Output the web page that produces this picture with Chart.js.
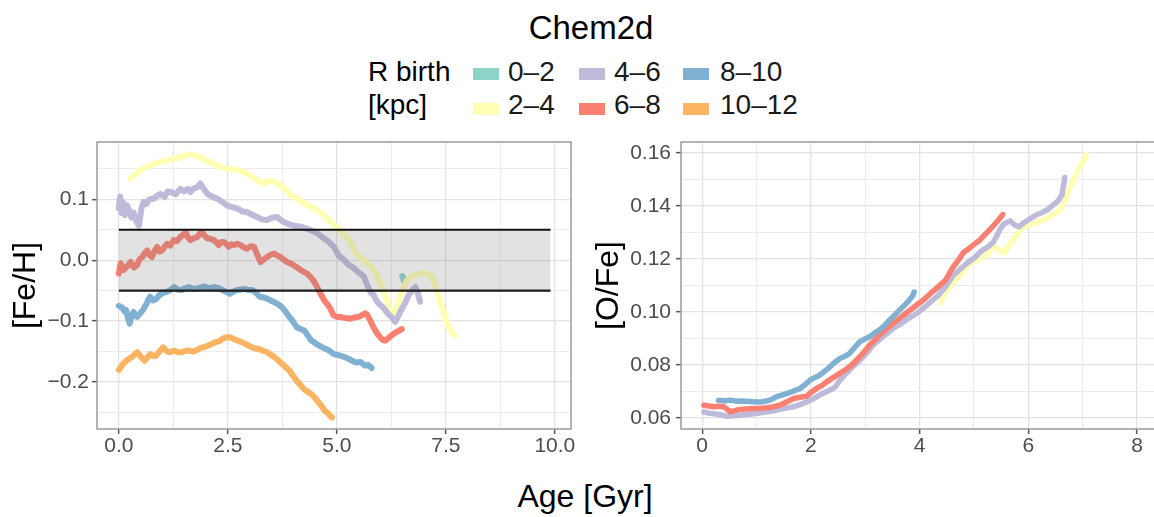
<!DOCTYPE html>
<html>
<head>
<meta charset="utf-8">
<script src="https://cdn.jsdelivr.net/npm/chart.js@4.4.1/dist/chart.umd.min.js"></script>
<style>
    html, body { margin: 0; padding: 0; background: #fff; overflow: hidden; }
    body { width: 1154px; height: 517px; position: relative; font-family: "Liberation Sans", Arial, sans-serif; color: #000; }
    .txt { position: absolute; white-space: nowrap; }
    .key { position: absolute; width: 26px; height: 12px; }
    canvas { position: absolute; }
</style>
</head>
<body>
<div class="txt" style="left:391px; top:11px; width:400px; text-align:center; font-size:33px; line-height:33px;">Chem2d</div>
<div id="legend"></div>
<canvas id="fehChart" width="585" height="350" style="left:0; top:120px;"></canvas>
<canvas id="ofeChart" width="584" height="350" style="left:580px; top:120px;"></canvas>
<div class="txt" style="left:385px; top:480px; width:400px; text-align:center; font-size:32px; line-height:32px;">Age [Gyr]</div>
<script>
// R birth groups (kpc) and their colours
const groupLabels = ['0–2', '2–4', '4–6', '6–8', '8–10', '10–12'];
const groupColors = ['#8DD3C7', '#FFFFB3', '#BEBADA', '#FB8072', '#80B1D3', '#FDB462'];

// ---- left panel: [Fe/H] vs age ----
const fehAge02 = [6.50, 6.52, 6.54];
const feh02 = [-0.026, -0.030, -0.034];

const fehAge24 = [0.27, 0.40, 0.50, 0.65, 0.80, 0.95, 1.11, 1.25, 1.41, 1.55, 1.64, 1.75, 1.87, 2.00, 2.18, 2.33, 2.48, 2.64, 2.79, 2.95, 3.10, 3.20, 3.33, 3.48, 3.60, 3.71, 3.82, 3.94, 4.10, 4.24, 4.40, 4.55, 4.70, 4.85, 5.00, 5.16, 5.23, 5.33, 5.42, 5.53, 5.65, 5.75, 5.84, 5.92, 5.99, 6.07, 6.15, 6.22, 6.30, 6.38, 6.45, 6.53, 6.61, 6.70, 6.80, 6.90, 6.99, 7.10, 7.18, 7.24, 7.29, 7.37, 7.45, 7.50, 7.56, 7.63, 7.71];
const feh24 = [0.134, 0.142, 0.148, 0.153, 0.158, 0.161, 0.164, 0.166, 0.169, 0.172, 0.174, 0.172, 0.169, 0.164, 0.158, 0.153, 0.150, 0.149, 0.147, 0.141, 0.135, 0.130, 0.126, 0.131, 0.127, 0.123, 0.116, 0.107, 0.101, 0.094, 0.088, 0.082, 0.074, 0.064, 0.053, 0.044, 0.038, 0.027, 0.013, 0.004, -0.002, -0.008, -0.016, -0.025, -0.038, -0.050, -0.066, -0.082, -0.096, -0.078, -0.060, -0.045, -0.033, -0.027, -0.024, -0.022, -0.021, -0.023, -0.027, -0.036, -0.049, -0.068, -0.087, -0.098, -0.109, -0.118, -0.124];

const fehAge46 = [0.00, 0.03, 0.06, 0.10, 0.14, 0.19, 0.24, 0.29, 0.34, 0.40, 0.46, 0.52, 0.57, 0.63, 0.70, 0.80, 0.88, 0.96, 1.05, 1.12, 1.19, 1.30, 1.41, 1.50, 1.58, 1.64, 1.72, 1.80, 1.87, 1.93, 2.03, 2.15, 2.26, 2.37, 2.48, 2.60, 2.71, 2.83, 2.94, 3.05, 3.17, 3.28, 3.40, 3.52, 3.63, 3.75, 3.86, 4.00, 4.17, 4.30, 4.40, 4.55, 4.70, 4.80, 4.93, 5.04, 5.16, 5.28, 5.39, 5.50, 5.62, 5.69, 5.77, 5.85, 5.92, 6.00, 6.08, 6.15, 6.25, 6.34, 6.42, 6.49, 6.57, 6.64, 6.72, 6.80, 6.86, 6.91];
const feh46 = [0.085, 0.104, 0.078, 0.095, 0.074, 0.090, 0.082, 0.070, 0.078, 0.064, 0.057, 0.085, 0.096, 0.092, 0.100, 0.101, 0.106, 0.109, 0.104, 0.113, 0.112, 0.108, 0.117, 0.113, 0.117, 0.112, 0.118, 0.120, 0.126, 0.119, 0.109, 0.104, 0.101, 0.096, 0.090, 0.087, 0.085, 0.080, 0.079, 0.075, 0.071, 0.067, 0.066, 0.070, 0.071, 0.064, 0.060, 0.057, 0.055, 0.052, 0.049, 0.044, 0.036, 0.031, 0.022, 0.008, 0.001, -0.008, -0.013, -0.020, -0.027, -0.040, -0.052, -0.058, -0.068, -0.074, -0.079, -0.086, -0.093, -0.101, -0.090, -0.080, -0.070, -0.058, -0.050, -0.044, -0.055, -0.068];

const fehAge68 = [0.00, 0.04, 0.11, 0.19, 0.27, 0.35, 0.42, 0.48, 0.54, 0.60, 0.65, 0.70, 0.76, 0.82, 0.88, 0.94, 0.99, 1.05, 1.11, 1.18, 1.26, 1.33, 1.41, 1.47, 1.53, 1.58, 1.64, 1.72, 1.80, 1.86, 1.91, 1.97, 2.03, 2.10, 2.18, 2.24, 2.29, 2.35, 2.41, 2.47, 2.52, 2.58, 2.64, 2.72, 2.79, 2.87, 2.94, 3.02, 3.10, 3.17, 3.25, 3.32, 3.40, 3.48, 3.56, 3.63, 3.71, 3.78, 3.86, 3.93, 4.01, 4.09, 4.17, 4.24, 4.32, 4.39, 4.46, 4.52, 4.58, 4.65, 4.71, 4.77, 4.84, 4.92, 5.00, 5.08, 5.20, 5.31, 5.40, 5.50, 5.58, 5.65, 5.70, 5.76, 5.84, 5.92, 6.00, 6.06, 6.11, 6.18, 6.26, 6.34, 6.42, 6.49];
const feh68 = [-0.022, -0.005, -0.016, -0.010, -0.003, -0.012, -0.008, 0.002, 0.005, 0.012, 0.016, 0.009, 0.005, 0.015, 0.022, 0.014, 0.016, 0.022, 0.027, 0.024, 0.033, 0.031, 0.038, 0.041, 0.046, 0.038, 0.033, 0.036, 0.038, 0.044, 0.046, 0.040, 0.036, 0.035, 0.033, 0.029, 0.025, 0.030, 0.030, 0.026, 0.022, 0.026, 0.025, 0.027, 0.025, 0.021, 0.019, 0.023, 0.022, 0.010, -0.003, 0.001, 0.005, 0.009, 0.011, 0.008, 0.005, 0.001, -0.003, -0.005, -0.008, -0.012, -0.016, -0.019, -0.022, -0.027, -0.033, -0.040, -0.049, -0.058, -0.066, -0.071, -0.078, -0.090, -0.093, -0.093, -0.095, -0.096, -0.094, -0.093, -0.090, -0.087, -0.090, -0.098, -0.110, -0.120, -0.127, -0.131, -0.132, -0.128, -0.123, -0.119, -0.116, -0.113];

const fehAge810 = [0.00, 0.08, 0.13, 0.17, 0.21, 0.25, 0.30, 0.34, 0.38, 0.42, 0.48, 0.55, 0.60, 0.64, 0.68, 0.72, 0.78, 0.85, 0.92, 0.98, 1.04, 1.10, 1.18, 1.27, 1.35, 1.44, 1.52, 1.61, 1.70, 1.78, 1.87, 1.95, 2.08, 2.21, 2.30, 2.38, 2.46, 2.55, 2.63, 2.72, 2.80, 2.89, 2.97, 3.06, 3.14, 3.23, 3.32, 3.40, 3.48, 3.57, 3.65, 3.74, 3.82, 3.91, 4.00, 4.08, 4.17, 4.25, 4.33, 4.42, 4.50, 4.59, 4.67, 4.76, 4.84, 4.93, 5.05, 5.18, 5.30, 5.44, 5.54, 5.65, 5.72, 5.80];
const feh810 = [-0.075, -0.078, -0.084, -0.082, -0.095, -0.104, -0.090, -0.085, -0.090, -0.093, -0.088, -0.082, -0.076, -0.071, -0.064, -0.060, -0.066, -0.064, -0.058, -0.055, -0.053, -0.052, -0.049, -0.044, -0.048, -0.049, -0.046, -0.044, -0.047, -0.047, -0.045, -0.043, -0.046, -0.044, -0.046, -0.049, -0.052, -0.055, -0.051, -0.049, -0.048, -0.047, -0.049, -0.049, -0.053, -0.060, -0.061, -0.063, -0.066, -0.069, -0.072, -0.077, -0.084, -0.093, -0.101, -0.110, -0.113, -0.115, -0.123, -0.132, -0.136, -0.140, -0.143, -0.146, -0.149, -0.154, -0.156, -0.159, -0.163, -0.168, -0.167, -0.173, -0.172, -0.177];

const fehAge1012 = [0.00, 0.04, 0.10, 0.17, 0.23, 0.30, 0.36, 0.42, 0.50, 0.59, 0.65, 0.72, 0.78, 0.85, 0.93, 1.02, 1.08, 1.15, 1.21, 1.27, 1.35, 1.44, 1.52, 1.61, 1.70, 1.78, 1.85, 1.91, 1.98, 2.04, 2.12, 2.21, 2.30, 2.38, 2.45, 2.51, 2.60, 2.72, 2.80, 2.89, 2.97, 3.06, 3.14, 3.23, 3.32, 3.40, 3.48, 3.57, 3.65, 3.74, 3.82, 3.91, 4.00, 4.08, 4.17, 4.25, 4.33, 4.42, 4.50, 4.59, 4.66, 4.72, 4.78, 4.84, 4.89];
const feh1012 = [-0.180, -0.176, -0.170, -0.165, -0.162, -0.159, -0.155, -0.151, -0.158, -0.165, -0.160, -0.154, -0.157, -0.157, -0.150, -0.143, -0.148, -0.151, -0.150, -0.148, -0.151, -0.151, -0.149, -0.148, -0.150, -0.148, -0.145, -0.143, -0.142, -0.140, -0.138, -0.135, -0.133, -0.129, -0.127, -0.126, -0.128, -0.132, -0.134, -0.137, -0.140, -0.143, -0.145, -0.146, -0.149, -0.151, -0.155, -0.159, -0.164, -0.170, -0.175, -0.181, -0.190, -0.198, -0.205, -0.212, -0.216, -0.220, -0.226, -0.234, -0.240, -0.247, -0.250, -0.255, -0.258];

// solar band drawn over the left panel
const bandAge = [0, 9.9];
const bandTop = [0.05, 0.05];
const bandBottom = [-0.05, -0.05];

// ---- right panel: [O/Fe] vs age ----
const ofeAge24 = [4.40, 4.42, 4.47, 4.57, 4.67, 4.78, 4.88, 4.98, 5.08, 5.17, 5.25, 5.31, 5.35, 5.42, 5.50, 5.55, 5.62, 5.68, 5.78, 5.85, 5.91, 6.00, 6.10, 6.21, 6.35, 6.52, 6.60, 6.67, 6.72, 6.77, 6.85, 6.92, 7.00, 7.07];
const ofe24 = [0.1035, 0.1055, 0.1073, 0.1098, 0.1123, 0.1148, 0.1174, 0.1188, 0.1199, 0.1210, 0.1218, 0.1235, 0.1249, 0.1242, 0.1228, 0.1224, 0.1245, 0.1262, 0.1287, 0.1310, 0.1319, 0.1328, 0.1334, 0.1342, 0.1355, 0.1374, 0.1390, 0.1418, 0.1445, 0.1474, 0.1505, 0.1538, 0.1565, 0.1594];

const ofeAge46 = [0.03, 0.12, 0.21, 0.33, 0.46, 0.58, 0.70, 0.82, 0.95, 1.07, 1.19, 1.31, 1.43, 1.55, 1.68, 1.80, 1.92, 2.04, 2.16, 2.28, 2.41, 2.47, 2.53, 2.59, 2.65, 2.71, 2.77, 2.84, 2.90, 2.96, 3.02, 3.08, 3.14, 3.23, 3.32, 3.41, 3.51, 3.63, 3.75, 3.87, 3.99, 4.07, 4.15, 4.24, 4.34, 4.48, 4.61, 4.75, 4.88, 5.01, 5.14, 5.25, 5.35, 5.42, 5.48, 5.54, 5.60, 5.67, 5.75, 5.83, 5.91, 6.03, 6.15, 6.25, 6.35, 6.46, 6.55, 6.62, 6.65, 6.67];
const ofe46 = [0.0623, 0.0618, 0.0616, 0.0612, 0.0606, 0.0608, 0.0610, 0.0613, 0.0616, 0.0619, 0.0623, 0.0627, 0.0632, 0.0637, 0.0642, 0.0650, 0.0660, 0.0672, 0.0686, 0.0698, 0.0711, 0.0722, 0.0742, 0.0755, 0.0768, 0.0780, 0.0793, 0.0806, 0.0818, 0.0830, 0.0843, 0.0858, 0.0875, 0.0890, 0.0906, 0.0920, 0.0938, 0.0952, 0.0970, 0.0985, 0.1001, 0.1015, 0.1028, 0.1045, 0.1062, 0.1096, 0.1136, 0.1162, 0.1186, 0.1205, 0.1231, 0.1245, 0.1262, 0.1287, 0.1312, 0.1330, 0.1338, 0.1344, 0.1328, 0.1322, 0.1336, 0.1352, 0.1367, 0.1375, 0.1386, 0.1405, 0.1420, 0.1443, 0.1480, 0.1508];

const ofeAge68 = [0.03, 0.12, 0.21, 0.30, 0.40, 0.46, 0.52, 0.61, 0.70, 0.82, 0.95, 1.07, 1.19, 1.31, 1.43, 1.55, 1.68, 1.80, 1.92, 2.01, 2.10, 2.20, 2.29, 2.41, 2.53, 2.62, 2.71, 2.80, 2.90, 2.99, 3.08, 3.17, 3.26, 3.38, 3.51, 3.63, 3.75, 3.87, 3.99, 4.07, 4.15, 4.24, 4.34, 4.48, 4.61, 4.70, 4.81, 4.91, 5.01, 5.11, 5.21, 5.31, 5.41, 5.47, 5.53];
const ofe68 = [0.0648, 0.0645, 0.0642, 0.0644, 0.0642, 0.0632, 0.0623, 0.0628, 0.0632, 0.0634, 0.0635, 0.0636, 0.0638, 0.0642, 0.0648, 0.0660, 0.0673, 0.0678, 0.0682, 0.0697, 0.0711, 0.0722, 0.0736, 0.0752, 0.0768, 0.0780, 0.0793, 0.0810, 0.0831, 0.0852, 0.0875, 0.0893, 0.0913, 0.0935, 0.0957, 0.0976, 0.0995, 0.1014, 0.1033, 0.1045, 0.1060, 0.1077, 0.1095, 0.1121, 0.1168, 0.1192, 0.1225, 0.1240, 0.1256, 0.1272, 0.1294, 0.1315, 0.1338, 0.1352, 0.1368];

const ofeAge810 = [0.30, 0.41, 0.52, 0.64, 0.76, 0.88, 1.01, 1.10, 1.19, 1.28, 1.37, 1.46, 1.55, 1.67, 1.80, 1.89, 1.98, 2.07, 2.16, 2.25, 2.35, 2.44, 2.53, 2.62, 2.71, 2.80, 2.90, 2.99, 3.08, 3.17, 3.26, 3.36, 3.45, 3.54, 3.63, 3.72, 3.81, 3.87, 3.90];
const ofe810 = [0.0667, 0.0665, 0.0667, 0.0663, 0.0664, 0.0662, 0.0660, 0.0661, 0.0664, 0.0670, 0.0680, 0.0686, 0.0692, 0.0700, 0.0711, 0.0725, 0.0742, 0.0752, 0.0761, 0.0776, 0.0793, 0.0810, 0.0824, 0.0832, 0.0843, 0.0865, 0.0888, 0.0898, 0.0906, 0.0920, 0.0932, 0.0950, 0.0970, 0.0988, 0.1007, 0.1025, 0.1045, 0.1060, 0.1075];

const TICK_FONT = { family: '"Liberation Sans", Arial, sans-serif', size: 21 };
const TITLE_FONT = { family: '"Liberation Sans", Arial, sans-serif', size: 32 };

function toPoints(ages, values) {
    return ages.map((a, i) => ({ x: a, y: values[i] }));
}

function series(group, ages, values, width) {
    return {
        label: groupLabels[group],
        data: toPoints(ages, values),
        borderColor: groupColors[group],
        borderWidth: width,
        pointRadius: 0,
        tension: 0,
        fill: false,
        borderJoinStyle: 'round',
        borderCapStyle: 'round',
        order: 10 - group // later groups are drawn on top, like ggplot
    };
}

// draws the grey frame round the panel
const panelFrame = {
    id: 'panelFrame',
    afterDraw(chart) {
        const { ctx, chartArea } = chart;
        ctx.save();
        ctx.strokeStyle = '#9a9a9a';
        ctx.lineWidth = 1.5;
        ctx.strokeRect(chartArea.left, chartArea.top, chartArea.right - chartArea.left, chartArea.bottom - chartArea.top);
        ctx.restore();
    }
};

function isMultiple(v, step) {
    return Math.abs(v / step - Math.round(v / step)) < 1e-6;
}

function axis(opts) {
    const major = v => isMultiple(v, opts.major);
    const axisOpts = {
        type: 'linear',
        min: opts.min,
        max: opts.max,
        border: { display: false },
        grid: {
            color: c => major(c.tick.value) ? '#e3e3e3' : '#ececec',
            lineWidth: c => major(c.tick.value) ? 1.3 : 1,
            drawTicks: true,
            tickLength: 5,
            tickColor: c => major(c.tick.value) ? '#555555' : 'rgba(0,0,0,0)',
            tickWidth: 1.5
        },
        ticks: {
            stepSize: opts.minor,
            includeBounds: false,
            autoSkip: false,
            maxRotation: 0,
            padding: opts.padding,
            color: '#4d4d4d',
            font: TICK_FONT,
            callback: v => major(v) ? opts.format(v) : ''
        },
        afterFit: s => {
            if (opts.width) s.width = opts.width;
            if (opts.height) s.height = opts.height;
        }
    };
    if (opts.title) {
        axisOpts.title = { display: true, text: opts.title, color: '#000', font: TITLE_FONT, padding: { top: opts.titlePad, bottom: 0 } };
    }
    return axisOpts;
}

const minusFmt = d => v => {
    const s = Math.abs(v).toFixed(d);
    return v < -1e-9 ? '\u2212' + s : s;
};

function baseOptions(xAxis, yAxis, padRight) {
    return {
        responsive: false,
        animation: false,
        devicePixelRatio: 1,
        events: [],
        layout: { padding: { top: 22, right: padRight, bottom: 0, left: 0 } },
        plugins: { legend: { display: false }, tooltip: { enabled: false }, title: { display: false } },
        scales: { x: xAxis, y: yAxis }
    };
}

// left panel
new Chart(document.getElementById('fehChart'), {
    type: 'line',
    data: {
        datasets: [
            {
                data: toPoints(bandAge, bandTop), borderColor: '#111', borderWidth: 2.2, pointRadius: 0,
                fill: '+1', backgroundColor: 'rgba(120,120,120,0.21)', order: 0
            },
            {
                data: toPoints(bandAge, bandBottom), borderColor: '#111', borderWidth: 2.2, pointRadius: 0,
                fill: false, order: 0
            },
            series(0, fehAge02, feh02, 6),
            series(1, fehAge24, feh24, 6),
            series(2, fehAge46, feh46, 6),
            series(3, fehAge68, feh68, 6),
            series(4, fehAge810, feh810, 6),
            series(5, fehAge1012, feh1012, 6)
        ]
    },
    options: baseOptions(
        axis({ min: -0.5, max: 10.37, minor: 1.25, major: 2.5, format: v => v.toFixed(1), padding: 0, height: 41 }),
        axis({ min: -0.277, max: 0.194, minor: 0.05, major: 0.1, format: minusFmt(1), padding: 3, width: 97, title: '[Fe/H]', titlePad: 7 }),
        14
    ),
    plugins: [panelFrame]
});

// right panel (its right edge runs past the page, as in the source figure)
new Chart(document.getElementById('ofeChart'), {
    type: 'line',
    data: {
        datasets: [
            series(1, ofeAge24, ofe24, 5.5),
            series(2, ofeAge46, ofe46, 5.5),
            series(3, ofeAge68, ofe68, 5.5),
            series(4, ofeAge810, ofe810, 5.5)
        ]
    },
    options: baseOptions(
        axis({ min: -0.39, max: 8.46, minor: 1, major: 2, format: v => v.toFixed(0), padding: 0, height: 41 }),
        axis({ min: 0.0558, max: 0.1642, minor: 0.01, major: 0.02, format: v => v.toFixed(2), padding: 5, width: 101, title: '[O/Fe]', titlePad: 10 }),
        2
    ),
    plugins: [panelFrame]
});

// legend, laid out in the ggplot style: title then a 3 x 2 grid of keys
const legendEl = document.getElementById('legend');
const keyLeft = [473, 579, 683];
const labelLeft = [508, 614, 720];
const rowTop = [58, 91];
const keyTop = [68, 103];
let html = '<div class="txt" style="left:368px; top:' + rowTop[0] + 'px; font-size:28px; line-height:28px;">R birth</div>' +
    '<div class="txt" style="left:368px; top:' + rowTop[1] + 'px; font-size:28px; line-height:28px;">[kpc]</div>';
groupLabels.forEach((lab, i) => {
    const col = Math.floor(i / 2);
    const row = i % 2;
    html += '<div class="key" style="left:' + keyLeft[col] + 'px; top:' + keyTop[row] + 'px; background:' + groupColors[i] + ';"></div>';
    html += '<div class="txt" style="left:' + labelLeft[col] + 'px; top:' + rowTop[row] + 'px; font-size:28px; line-height:28px; color:#1a1a1a;">' + lab + '</div>';
});
legendEl.innerHTML = html;
</script>
</body>
</html>
